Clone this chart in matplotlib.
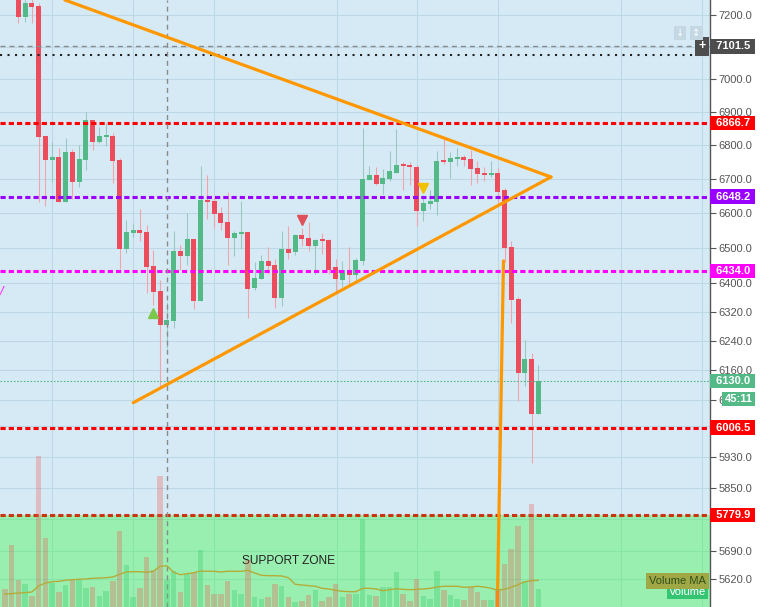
import numpy as np
import matplotlib
matplotlib.use('Agg')
import matplotlib.pyplot as plt
import matplotlib.transforms as mtransforms
from matplotlib.ticker import FixedLocator, NullLocator, FuncFormatter

plt.rcParams['font.family'] = ['Liberation Sans', 'DejaVu Sans']

# ---- data (bar -2 and -1 sit above the visible price range) ----
first_bar = -2
opens = [7330, 7310, 7265, 7194.6, 7237.1, 7228.5, 6827.3, 6756.6, 6764.6, 6633.1,
         6779.5, 6691.6, 6755.8, 6875.5, 6810.3, 6825.2, 6827.3, 6755.8, 6497.6, 6543.4,
         6551.2, 6545.4, 6448.4, 6378.0, 6284.3, 6295.3, 6491.0, 6477.6, 6525.3, 6350.8,
         6638.1, 6635.2, 6600.3, 6574.2, 6529.0, 6540.6, 6545.4, 6386.3, 6412.5, 6462.6,
         6451.3, 6359.2, 6496.7, 6489.0, 6536.7, 6528.2, 6505.3, 6522.4, 6522.4, 6445.6,
         6409.7, 6437.0, 6422.9, 6462.6, 6696.6, 6711.3, 6684.9, 6699.6, 6717.2, 6740.9,
         6740.9, 6735.0, 6607.0, 6627.3, 6633.1, 6755.8, 6749.8, 6758.7, 6764.6, 6758.7,
         6732.0, 6717.2, 6712.3, 6717.2, 6667.3, 6502.4, 6355.6, 6153.1, 6190.3, 6043.3]
highs = [7345, 7320, 7290, 7250, 7255, 7237.1, 6827.3, 6810.3, 6790.5, 6820.4,
         6787.6, 6800.4, 6898.8, 6875.5, 6853.5, 6867.3, 6835.4, 6760.8, 6580.0, 6572.2,
         6611.9, 6565.6, 6493.8, 6408.8, 6348.1, 6548.3, 6508.2, 6599.4, 6525.3, 6737.9,
         6711.3, 6647.7, 6618.6, 6660.6, 6548.3, 6635.2, 6545.4, 6459.8, 6479.6, 6502.4,
         6468.3, 6548.3, 6562.7, 6540.0, 6557.8, 6574.2, 6524.0, 6542.6, 6524.0, 6468.3,
         6462.6, 6502.4, 6471.0, 6851.4, 6737.9, 6735.0, 6729.0, 6782.5, 6848.4, 6749.8,
         6748.9, 6740.9, 6652.7, 6667.3, 6782.5, 6827.3, 6779.5, 6791.5, 6770.6, 6785.4,
         6752.8, 6735.0, 6752.8, 6732.0, 6673.1, 6519.6, 6361.2, 6242.1, 6206.6, 6174.0]
lows = [7300, 7250, 7175.7, 7178.8, 7175.7, 6633.1, 6621.5, 6691.6, 6633.1, 6633.1,
        6640.1, 6676.9, 6726.1, 6785.4, 6805.5, 6798.3, 6686.9, 6439.0, 6484.5, 6531.9,
        6520.5, 6373.2, 6338.9, 6111.1, 6219.4, 6274.3, 6437.0, 6451.3, 6326.9, 6350.8,
        6582.9, 6557.8, 6551.2, 6451.3, 6476.8, 6496.7, 6303.6, 6380.8, 6412.5, 6425.7,
        6331.3, 6336.9, 6469.1, 6480.0, 6505.3, 6491.0, 6425.7, 6482.4, 6425.7, 6375.2,
        6390.0, 6394.8, 6404.0, 6451.3, 6696.6, 6682.0, 6655.6, 6693.7, 6717.2, 6667.3,
        6682.0, 6562.7, 6578.0, 6611.9, 6594.5, 6743.9, 6702.6, 6737.9, 6737.9, 6682.0,
        6687.8, 6693.7, 6705.4, 6623.5, 6460.6, 6289.8, 6078.0, 6118.1, 5914.6, 6043.3]
closes = [7310, 7262, 7194.6, 7237.1, 7226.3, 6825.2, 6755.8, 6764.6, 6633.1, 6779.5,
          6691.6, 6758.7, 6875.5, 6810.3, 6827.3, 6827.3, 6752.8, 6497.6, 6544.6, 6551.2,
          6543.4, 6446.4, 6376.0, 6284.3, 6297.2, 6491.0, 6477.6, 6525.3, 6350.8, 6638.1,
          6632.3, 6598.3, 6572.2, 6529.0, 6541.7, 6545.4, 6384.4, 6414.5, 6462.6, 6449.3,
          6359.2, 6496.7, 6486.1, 6536.7, 6526.2, 6505.3, 6522.4, 6520.5, 6437.9, 6411.6,
          6437.0, 6422.9, 6465.4, 6699.6, 6711.3, 6684.9, 6702.6, 6723.1, 6740.9, 6738.8,
          6735.9, 6607.0, 6629.3, 6635.2, 6752.8, 6749.8, 6761.7, 6764.6, 6755.8, 6729.0,
          6714.3, 6712.3, 6717.2, 6661.4, 6500.4, 6352.8, 6153.1, 6190.3, 6043.3, 6130.0]
volumes = [17.7, 61.7, 26.7, 23.3, 10.7, 150.7, 69.3, 24, 14.7, 21.7,
           26.7, 26.7, 18.7, 19.7, 10.7, 15.7, 25.7, 75.7, 41.7, 9.7,
           18.7, 49.7, 36.7, 130.7, 26.7, 35.7, 14.7, 32.7, 34.3, 56.7,
           21.7, 12.7, 12.7, 25.7, 16.7, 12.7, 46.7, 9.7, 7.7, 9.7,
           22.7, 20.7, 9.7, 4.7, 5.7, 11.7, 16.7, 5.7, 9.7, 22.7,
           9.7, 12.7, 12.7, 87.7, 11.7, 10.7, 19.7, 19.7, 34.7, 12.7,
           5.7, 27.7, 10.7, 7.7, 35.7, 16.7, 11.7, 7.7, 6.7, 19.7,
           14.7, 6.7, 6.7, 18, 42.7, 57.7, 80.7, 25.7, 102.7, 17.7]
volume_ma = [13, 13.3, 14, 14.3, 15, 21, 24, 25.3, 25.7, 26.7,
             27.3, 27.7, 28, 28.7, 29, 29.3, 30, 32.7, 35, 35.3,
             35.3, 34.7, 35.7, 40.7, 41.3, 34.7, 32.3, 33.3, 34.3, 36,
             35.7, 35.7, 35, 35.7, 35.7, 35.7, 36.7, 34, 31.7, 31.3,
             31.3, 31, 29.3, 22.7, 22, 21.3, 20.7, 18.7, 18, 16.7,
             15.7, 15.3, 15.3, 18.7, 18.7, 18, 16.3, 17.3, 18.3, 17.7,
             17.3, 17.7, 18, 18.7, 20, 20.7, 20.7, 20.7, 19.7, 20,
             20.7, 20, 18.7, 16.7, 17.7, 19.7, 22.3, 25.3, 26.3, 26.7]

price_ticks = [7200, 7100, 7000, 6900, 6800, 6700, 6600, 6500, 6400, 6320, 6240,
               6160, 6080, 6010, 5930, 5850, 5770, 5690, 5620]
# ticks whose labels sit fully under a price badge
covered_ticks = [7100, 6010, 5770]
time_grid = [5, 17, 29, 47.15, 59.1, 71.1, 89.2, 101.2]

levels = [6866.7, 6648.2, 6434.0, 6006.5, 5779.9]
level_colors = ['#ff0000', '#9900ff', '#ff00ff', '#ff0000', '#cc3311']
label_colors = ['#ff0000', '#9900ff', '#ff00ff', '#ff0000', '#ff0000']
crosshair_bar = 22
crosshair_price = 7101.5
dotted_level = 7075
support_top = 5779.9

# triangle (start, end) points in (bar, price)
trend_lines = [((6.9, 7247.6), (78.88, 6705.4)),
               ((17.03, 6072.6), (78.88, 6705.4)),
               ((71.85, 6462.6), (70.9, 5520.0))]

buy_bars = [20]
buy_prices = [6315.8]
sell_bars = [42, 60]
sell_prices = [6580.0, 6672.2]
sell_colors = ['#e0505a', '#f2c200']

BG = '#d6eaf5'
GRID = '#bcd8e7'
UP = '#53b987'
DN = '#eb4d5c'
W, H = 772, 607

fig = plt.figure(figsize=(W / 100, H / 100), dpi=100)
fig.patch.set_facecolor('white')
ax = fig.add_axes([0, 0, 710 / W, 1])
axv = ax.twinx()

ax.set_facecolor(BG)
ax.set_yscale('log')
ax.set_xlim(-2.71, 102.43)
ax.set_ylim(5551.3, 7247.6)
ax.set_axisbelow(True)
ax.yaxis.tick_right()
ax.yaxis.set_major_locator(FixedLocator(price_ticks))
ax.yaxis.set_minor_locator(NullLocator())
ax.yaxis.set_major_formatter(
    FuncFormatter(lambda v, p: '' if round(v) in covered_ticks else f'{v:.1f}'))
ax.tick_params(axis='y', length=4, width=0.8, color='#555555',
               labelcolor='#555555', labelsize=8, pad=2)
ax.set_xticks(time_grid)
ax.tick_params(axis='x', length=0, labelbottom=False)
ax.grid(True, color=GRID, lw=0.8)
for s in ['top', 'left', 'bottom']:
    ax.spines[s].set_visible(False)
ax.spines['right'].set_color('#555555')
ax.spines['right'].set_linewidth(1)

# support zone
ax.axhspan(5300, support_top, color='#3bf948', alpha=0.4, lw=0, zorder=0.8)

# candles
x = np.arange(first_bar, first_bar + len(opens))
o, hi, lo, c = map(np.array, (opens, highs, lows, closes))
up = c >= o
ax.vlines(x[up], lo[up], hi[up], color='#9cc6c0', lw=0.8, zorder=3)
ax.vlines(x[~up], lo[~up], hi[~up], color='#f3a3ab', lw=0.8, zorder=3)
body_lo = np.minimum(o, c)
body_hi = np.maximum(np.maximum(o, c), body_lo * 1.0006)
ax.bar(x, body_hi - body_lo, bottom=body_lo, width=0.74,
       color=np.where(up, UP, DN), zorder=4)

# horizontal levels
dash = (0, (1.7, 1.0))
for lv, col in zip(levels, level_colors):
    ax.axhline(lv, color=col, lw=2.2, ls=dash, zorder=5)
ax.axhline(dotted_level, color='#222222', lw=1.5, ls=(0, (1, 2.6)), zorder=5)
ax.axhline(crosshair_price, color='#8a8a8a', lw=1, ls=(0, (3.6, 2.9)), zorder=5)
ax.axvline(crosshair_bar, color='#8a8a8a', lw=1, ls=(0, (3.6, 2.9)), zorder=5)
ax.axhline(closes[-1], color=UP, lw=0.8, ls=(0, (1.5, 1.5)), zorder=5)

# triangle pattern
for (x0, y0), (x1, y1) in trend_lines:
    ax.plot([x0, x1], [y0, y1], color='#ff9800', lw=2.3,
            solid_capstyle='round', zorder=6)

# signals
ax.plot(buy_bars, buy_prices, ls='none', marker='^', ms=7, color='#7cc84a', zorder=7)
for b, p, col in zip(sell_bars, sell_prices, sell_colors):
    ax.plot([b], [p], ls='none', marker='v', ms=7, color=col, zorder=7)

ax.text(40, 5665, 'SUPPORT ZONE', ha='center', va='center', fontsize=8.6,
        color='#222222', zorder=8)
ax.text(-2.1, 6375, 'W', ha='right', va='center', fontsize=9, color='#ff33ff',
        style='italic', zorder=8, clip_on=True)

# volume pane
vol_cols = [(0.24, 0.81, 0.43, 0.35) if u else (0.94, 0.33, 0.31, 0.3) for u in up]
axv.set_ylim(0, 607)
axv.bar(x, volumes, width=0.82, color=vol_cols, zorder=1)
axv.plot(x, volume_ma, color='#b3ac3a', lw=1, zorder=2)
axv.axis('off')

# price labels on the scale
trans = mtransforms.blended_transform_factory(ax.transAxes, ax.transData)
lab_x = 1 + 2.5 / 710
box = dict(boxstyle='square,pad=0.2', ec='none')


def price_label(price, col, txt=None, transform=trans, xpos=lab_x, ha='left'):
    s = txt if txt is not None else f' {price:.1f} '
    ax.text(xpos, price, s, transform=transform, ha=ha, va='center', fontsize=8,
            fontweight='bold', color='white', bbox=dict(box, fc=col),
            clip_on=False, zorder=20)


for lv, col in zip(levels, label_colors):
    price_label(lv, col)
price_label(crosshair_price, '#4d4d4d')
price_label(closes[-1], UP)
below = mtransforms.offset_copy(trans, fig=fig, y=-17.5, units='dots')
price_label(closes[-1], UP, txt='45:11', transform=below, xpos=752.5 / 710, ha='right')
ax.text(1 - 8 / 710, crosshair_price, '+', transform=trans, ha='center', va='center',
        fontsize=9, fontweight='bold', color='white',
        bbox=dict(boxstyle='square,pad=0.3', fc='#4d4d4d', ec='none'),
        clip_on=False, zorder=20)

# legend badges of the volume study
fig.text(706 / W, 1 - 592 / H, 'Volume', ha='right', va='center', fontsize=8,
         color='white', bbox=dict(boxstyle='square,pad=0.2', fc='#34c472', ec='none'))
fig.text(706 / W, 1 - 581 / H, 'Volume MA', ha='right', va='center', fontsize=8,
         color='#2f4f1c', bbox=dict(boxstyle='square,pad=0.3', fc='#9fa845', ec='none'))

# small toolbar buttons
for xp, sym in [(680, '\u2193'), (696.5, '\u2195')]:
    fig.text(xp / W, 1 - 33 / H, sym, ha='center', va='center', fontsize=7,
             color='white', family='DejaVu Sans',
             bbox=dict(boxstyle='square,pad=0.25', fc='#c3d8e3', ec='none'))

fig.savefig('out.png', dpi=100, facecolor='white')
